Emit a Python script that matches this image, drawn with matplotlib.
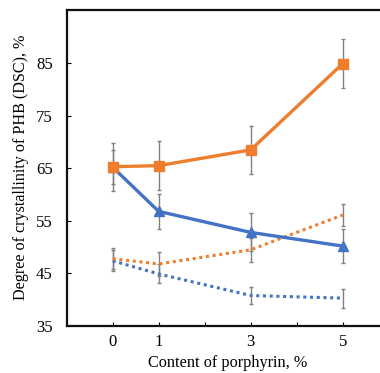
import matplotlib
matplotlib.use("Agg")
import matplotlib.pyplot as plt

content = [0, 1, 3, 5]
orange_solid = [65.3, 65.5, 68.5, 84.9]
orange_solid_err = [4.6, 4.7, 4.6, 4.7]
blue_solid = [65.2, 56.8, 52.8, 50.2]
blue_solid_err = [3.2, 3.4, 3.6, 3.3]
orange_dot = [47.8, 46.8, 49.5, 56.1]
orange_dot_err = [2.0, 2.2, 2.3, 2.1]
blue_dot = [47.4, 44.9, 40.8, 40.3]
blue_dot_err = [2.0, 1.8, 1.6, 1.8]

xticks = [0, 1, 2, 3, 4, 5]
xticklabels = ["0", "1", "", "3", "", "5"]
yticks = [35, 45, 55, 65, 75, 85]

ORANGE = "#EE7D2E"
BLUE = "#4472C4"
ERR = "#808080"

plt.rcParams["font.family"] = ["Liberation Serif", "DejaVu Serif"]

fig = plt.figure(figsize=(3.8, 3.73), dpi=100)
ax = fig.add_axes([0.1755, 0.126, 0.8475, 0.8485])

ekw = dict(ecolor=ERR, elinewidth=1.0, capsize=1.6, capthick=1.0)

ax.errorbar(content, blue_dot, yerr=blue_dot_err, color=BLUE, lw=2.2,
            linestyle=(0, (1, 1.2)), **ekw, zorder=2)
ax.errorbar(content, orange_dot, yerr=orange_dot_err, color=ORANGE, lw=2.2,
            linestyle=(0, (1, 1.2)), **ekw, zorder=2)
ax.errorbar(content, blue_solid, yerr=blue_solid_err, color=BLUE, lw=2.4,
            marker="^", markersize=7, **ekw, zorder=3)
ax.errorbar(content, orange_solid, yerr=orange_solid_err, color=ORANGE, lw=2.4,
            marker="s", markersize=7, **ekw, zorder=4)

ax.set_xlim(-1, 6)
ax.set_ylim(35, 95.2)
ax.set_xticks(xticks)
ax.set_xticklabels(xticklabels)
ax.set_yticks(yticks)
ax.tick_params(direction="in", length=3, width=0.8, labelsize=12)
ax.tick_params(axis="y", pad=10)
ax.tick_params(axis="x", pad=6)
for s in ax.spines.values():
    s.set_linewidth(1.6)
    s.set_color("#111111")

ax.set_xlabel("Content of porphyrin, %", fontsize=11.7, labelpad=3.5)
ax.set_ylabel("Degree of crystallinity of PHB (DSC), %", fontsize=11.6, labelpad=5)

fig.savefig("out.png", dpi=100)
